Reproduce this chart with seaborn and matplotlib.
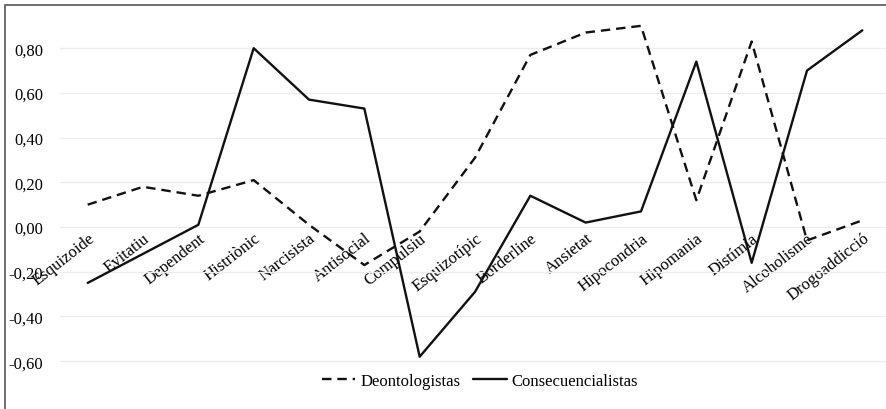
import numpy as np
import matplotlib
matplotlib.use('Agg')
import matplotlib.pyplot as plt
import matplotlib.ticker as mticker
from matplotlib.patches import Rectangle
from matplotlib.lines import Line2D
import pandas as pd
import seaborn as sns

categories = ['Esquizoide', 'Evitatiu', 'Dependent', 'Histriònic', 'Narcisista',
              'Antisocial', 'Compulsiu', 'Esquizotípic', 'Borderline', 'Ansietat',
              'Hipocondria', 'Hipomania', 'Distímia', 'Alcoholisme', 'Drogoaddicció']
deontologistas = [0.10, 0.18, 0.14, 0.21, 0.01, -0.17, -0.02, 0.31, 0.77, 0.87,
                  0.90, 0.12, 0.83, -0.06, 0.03]
consecuencialistas = [-0.25, -0.12, 0.01, 0.80, 0.57, 0.53, -0.58, -0.29, 0.14, 0.02,
                      0.07, 0.74, -0.16, 0.70, 0.88]
series = ['Deontologistas', 'Consecuencialistas']
yticks = [-0.60, -0.40, -0.20, 0.00, 0.20, 0.40, 0.60, 0.80]

df = pd.DataFrame({
    'categoria': categories * 2,
    'valor': deontologistas + consecuencialistas,
    'grup': [series[0]] * len(categories) + [series[1]] * len(categories),
})

sns.set_style('white')
plt.rcParams['font.family'] = ['Liberation Serif', 'DejaVu Serif']
plt.rcParams['text.color'] = 'black'
plt.rcParams['xtick.color'] = 'black'
plt.rcParams['ytick.color'] = 'black'

W, H = 887, 410
fig = plt.figure(figsize=(W / 100, H / 100), dpi=100)
ax = fig.add_axes([60 / W, 1 - 370 / H, 830 / W, 355 / H])

dash_map = {'Deontologistas': (4, 2.5), 'Consecuencialistas': ''}
sns.lineplot(data=df, x='categoria', y='valor', style='grup', dashes=dash_map,
             color='#111111', linewidth=1.7, ax=ax, legend=False, sort=False)

ax.set_xlim(-0.5, len(categories) - 0.5)
ax.set_ylim(-0.635, 0.953)
ax.set_yticks(yticks)
ax.yaxis.set_major_formatter(mticker.FuncFormatter(lambda v, p: f'{v:.2f}'.replace('.', ',')))
ax.grid(axis='y', color='#ececec', linewidth=1)
ax.grid(axis='x', visible=False)
for s in ['top', 'right', 'left']:
    ax.spines[s].set_visible(False)
ax.spines['bottom'].set_position(('data', 0))
ax.spines['bottom'].set_visible(False)
ax.tick_params(axis='y', length=0, pad=12, labelsize=12, labelcolor='black')
ax.tick_params(axis='x', length=0, pad=2, labelsize=12, labelcolor='black')
ax.set_xticks(range(len(categories)))
ax.set_xticklabels(categories, rotation=38, ha='right', rotation_mode='anchor')
ax.set_xlabel('')
ax.set_ylabel('')

handles = [Line2D([], [], color='#111111', lw=1.7, dashes=(4, 2.5)),
           Line2D([], [], color='#111111', lw=1.7)]
fig.legend(handles, series, loc='center', bbox_to_anchor=(480 / W, 1 - 382 / H),
           ncol=2, frameon=False, fontsize=12, handlelength=2.0, handletextpad=0.3,
           columnspacing=0.8)

fig.patches.append(Rectangle((5 / W, -0.1), 2, 1.1 - 6 / H, transform=fig.transFigure,
                             fill=False, edgecolor='#555555', linewidth=1.2))

fig.savefig('out.png', dpi=100)
